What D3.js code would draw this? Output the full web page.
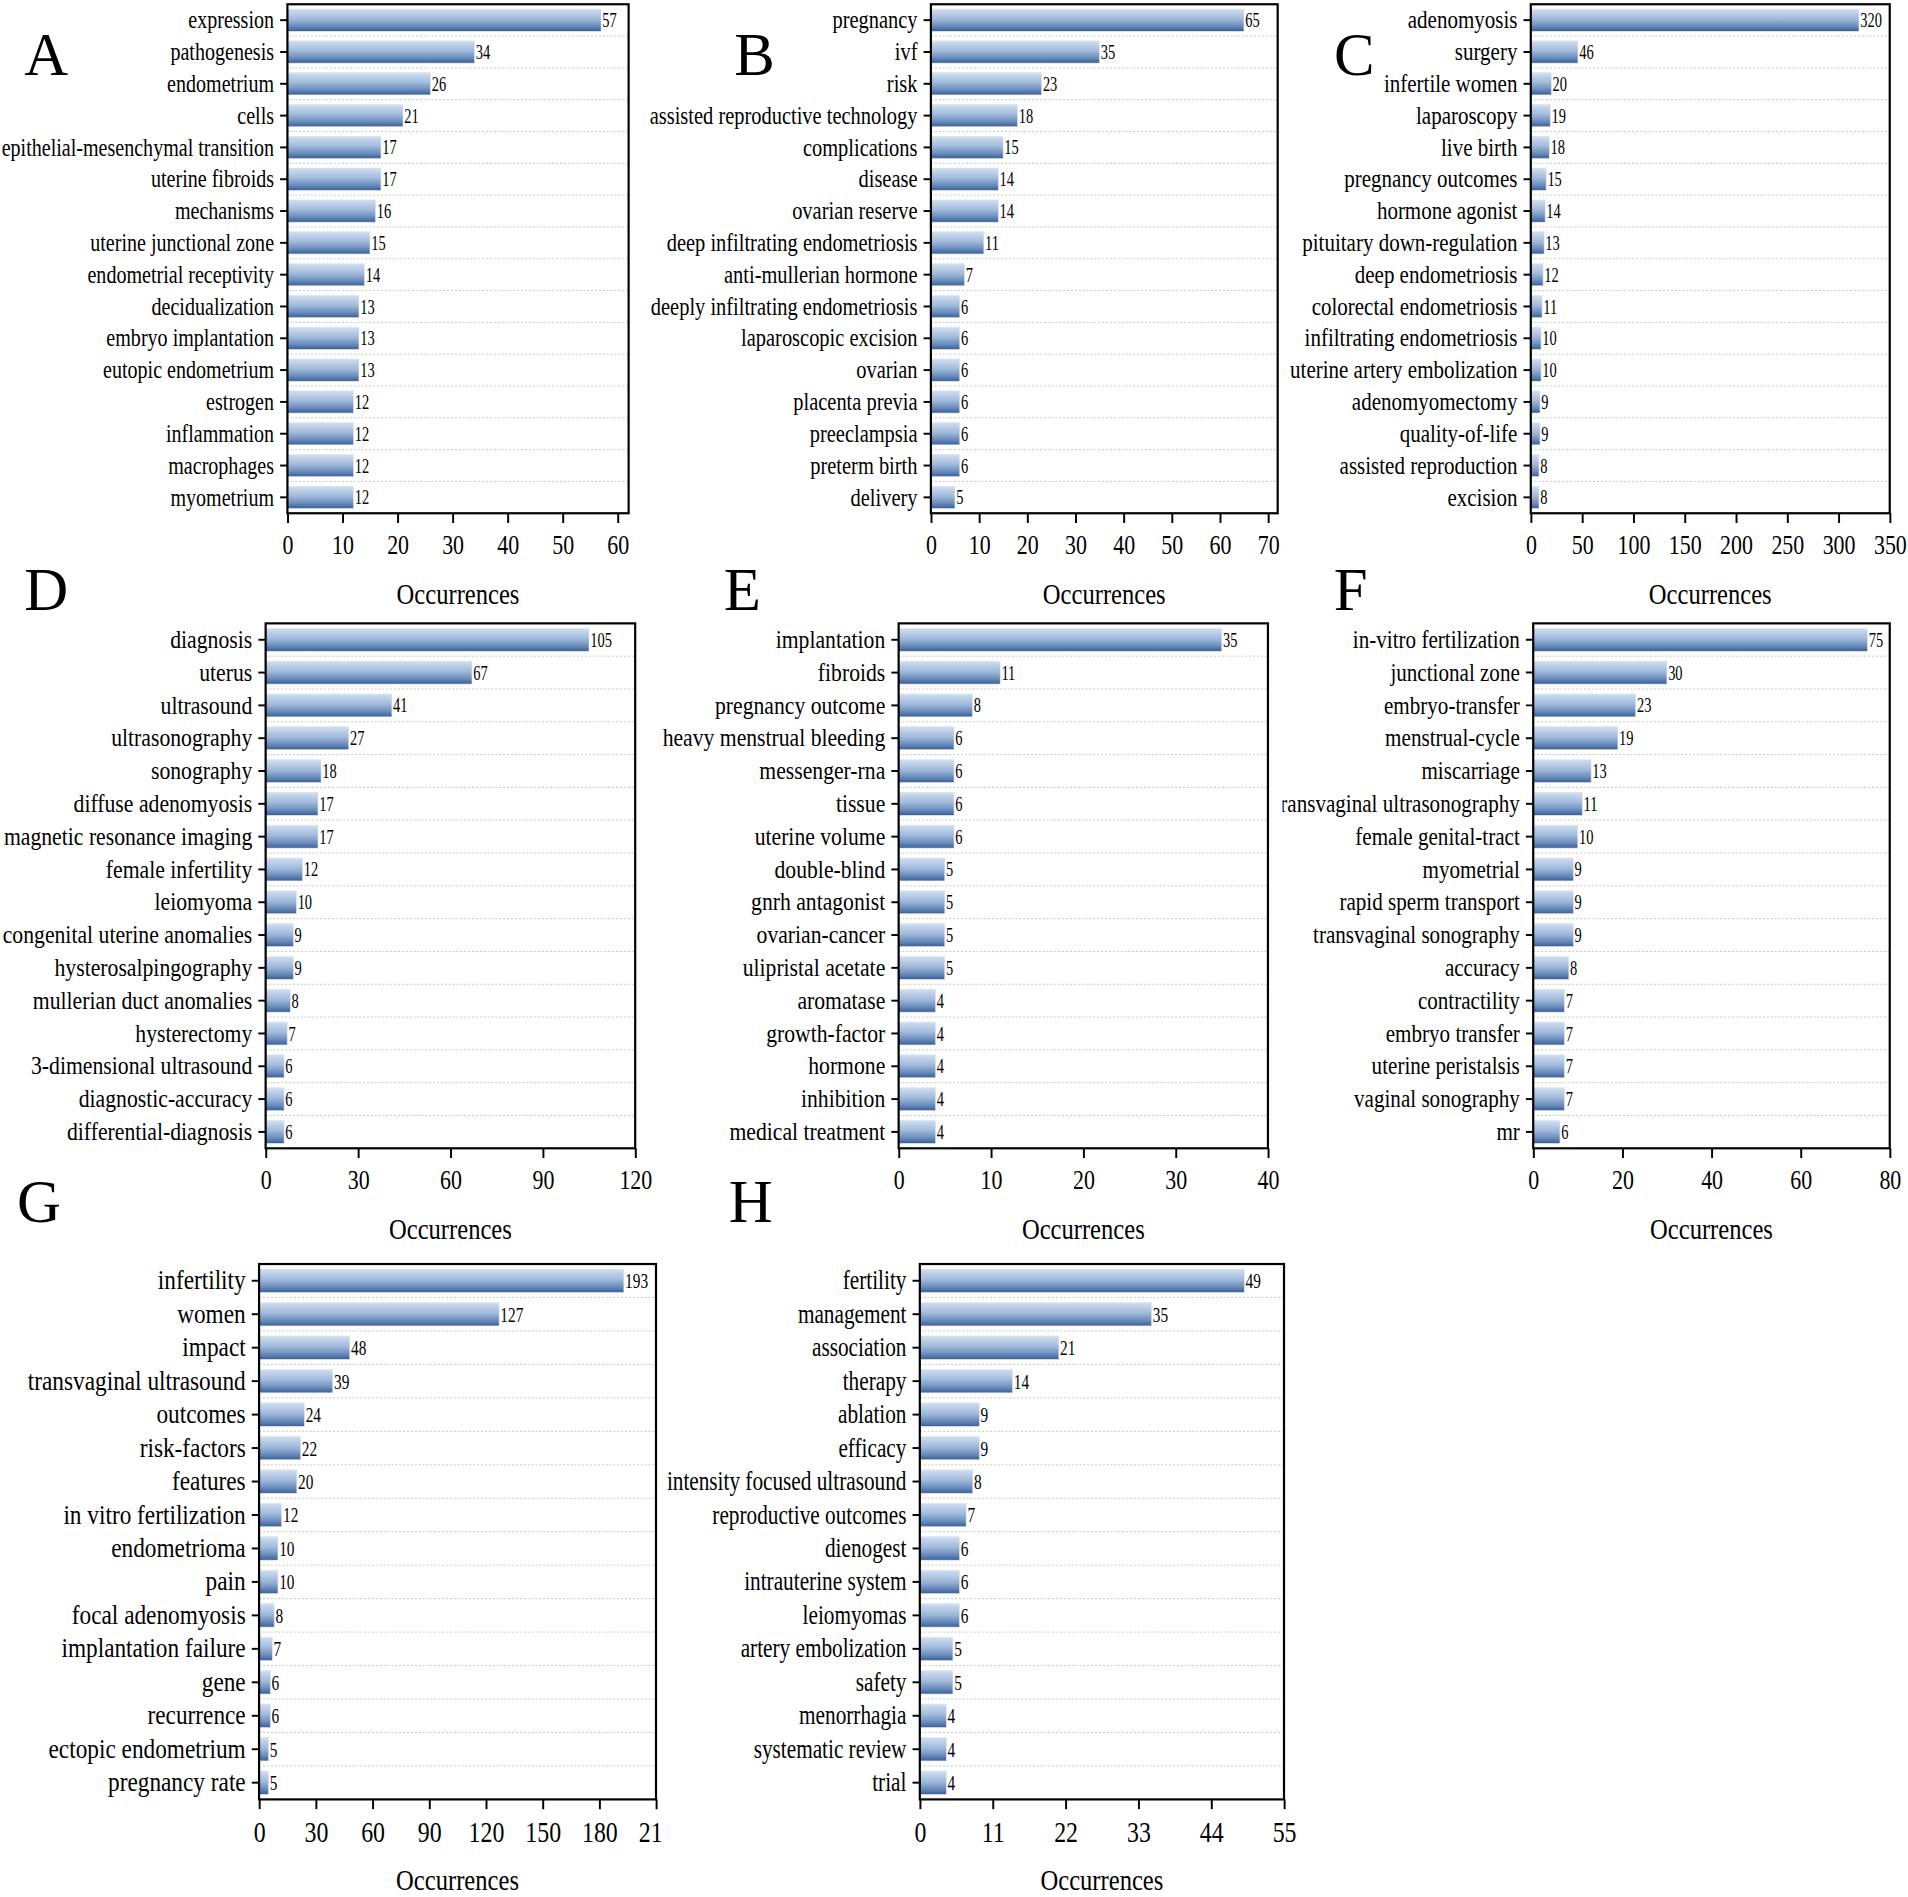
<!DOCTYPE html>
<html>
<head>
<meta charset="utf-8">
<script src="https://cdn.jsdelivr.net/npm/d3@7"></script>
<style>
  body { margin: 0; background: #fff; }
  svg text { font-family: 'Liberation Serif', 'Times New Roman', serif; fill: #000; }
</style>
</head>
<body>
<div class="keyword-chart"></div>
<script>
// keyword occurrence data, one list per panel
const aTerms = ['expression', 'pathogenesis', 'endometrium', 'cells', 'epithelial-mesenchymal transition', 'uterine fibroids', 'mechanisms', 'uterine junctional zone', 'endometrial receptivity', 'decidualization', 'embryo implantation', 'eutopic endometrium', 'estrogen', 'inflammation', 'macrophages', 'myometrium'];
const aCounts = [57, 34, 26, 21, 17, 17, 16, 15, 14, 13, 13, 13, 12, 12, 12, 12];
const aTicks = [0, 10, 20, 30, 40, 50, 60];

const bTerms = ['pregnancy', 'ivf', 'risk', 'assisted reproductive technology', 'complications', 'disease', 'ovarian reserve', 'deep infiltrating endometriosis', 'anti-mullerian hormone', 'deeply infiltrating endometriosis', 'laparoscopic excision', 'ovarian', 'placenta previa', 'preeclampsia', 'preterm birth', 'delivery'];
const bCounts = [65, 35, 23, 18, 15, 14, 14, 11, 7, 6, 6, 6, 6, 6, 6, 5];
const bTicks = [0, 10, 20, 30, 40, 50, 60, 70];

const cTerms = ['adenomyosis', 'surgery', 'infertile women', 'laparoscopy', 'live birth', 'pregnancy outcomes', 'hormone agonist', 'pituitary down-regulation', 'deep endometriosis', 'colorectal endometriosis', 'infiltrating endometriosis', 'uterine artery embolization', 'adenomyomectomy', 'quality-of-life', 'assisted reproduction', 'excision'];
const cCounts = [320, 46, 20, 19, 18, 15, 14, 13, 12, 11, 10, 10, 9, 9, 8, 8];
const cTicks = [0, 50, 100, 150, 200, 250, 300, 350];

const dTerms = ['diagnosis', 'uterus', 'ultrasound', 'ultrasonography', 'sonography', 'diffuse adenomyosis', 'magnetic resonance imaging', 'female infertility', 'leiomyoma', 'congenital uterine anomalies', 'hysterosalpingography', 'mullerian duct anomalies', 'hysterectomy', '3-dimensional ultrasound', 'diagnostic-accuracy', 'differential-diagnosis'];
const dCounts = [105, 67, 41, 27, 18, 17, 17, 12, 10, 9, 9, 8, 7, 6, 6, 6];
const dTicks = [0, 30, 60, 90, 120];

const eTerms = ['implantation', 'fibroids', 'pregnancy outcome', 'heavy menstrual bleeding', 'messenger-rna', 'tissue', 'uterine volume', 'double-blind', 'gnrh antagonist', 'ovarian-cancer', 'ulipristal acetate', 'aromatase', 'growth-factor', 'hormone', 'inhibition', 'medical treatment'];
const eCounts = [35, 11, 8, 6, 6, 6, 6, 5, 5, 5, 5, 4, 4, 4, 4, 4];
const eTicks = [0, 10, 20, 30, 40];

const fTerms = ['in-vitro fertilization', 'junctional zone', 'embryo-transfer', 'menstrual-cycle', 'miscarriage', 'transvaginal ultrasonography', 'female genital-tract', 'myometrial', 'rapid sperm transport', 'transvaginal sonography', 'accuracy', 'contractility', 'embryo transfer', 'uterine peristalsis', 'vaginal sonography', 'mr'];
const fCounts = [75, 30, 23, 19, 13, 11, 10, 9, 9, 9, 8, 7, 7, 7, 7, 6];
const fTicks = [0, 20, 40, 60, 80];

const gTerms = ['infertility', 'women', 'impact', 'transvaginal ultrasound', 'outcomes', 'risk-factors', 'features', 'in vitro fertilization', 'endometrioma', 'pain', 'focal adenomyosis', 'implantation failure', 'gene', 'recurrence', 'ectopic endometrium', 'pregnancy rate'];
const gCounts = [193, 127, 48, 39, 24, 22, 20, 12, 10, 10, 8, 7, 6, 6, 5, 5];
const gTicks = [0, 30, 60, 90, 120, 150, 180, 210];

const hTerms = ['fertility', 'management', 'association', 'therapy', 'ablation', 'efficacy', 'intensity focused ultrasound', 'reproductive outcomes', 'dienogest', 'intrauterine system', 'leiomyomas', 'artery embolization', 'safety', 'menorrhagia', 'systematic review', 'trial'];
const hCounts = [49, 35, 21, 14, 9, 9, 8, 7, 6, 6, 6, 5, 5, 4, 4, 4];
const hTicks = [0, 11, 22, 33, 44, 55];

// layout (drawn in a 1568 x 1559 coordinate space, scaled to the page)
const viewW = 1568;
const viewH = 1559;
const rows = [
  { top: 3.5, bottom: 421.8, letterY: 62, font: 21, tickFont: 22.5, valueFont: 16.5 },
  { top: 512.3, bottom: 943.7, letterY: 501, font: 21, tickFont: 22.5, valueFont: 16.5 },
  { top: 1038.8, bottom: 1478.8, letterY: 1004, font: 22, tickFont: 24.5, valueFont: 17.5 },
];

const panels = [
  { id: 'A', terms: aTerms, counts: aCounts, ticks: aTicks, max: 62, left: 236.2, right: 516.6, row: 0, letterX: 38, squeeze: 0.785 },
  { id: 'B', terms: bTerms, counts: bCounts, ticks: bTicks, max: 72, left: 765, right: 1050, row: 0, letterX: 620, squeeze: 0.8 },
  { id: 'C', terms: cTerms, counts: cCounts, ticks: cTicks, max: 350, left: 1258, right: 1553, row: 0, letterX: 1113, squeeze: 0.822 },
  { id: 'D', terms: dTerms, counts: dCounts, ticks: dTicks, max: 120, left: 218.3, right: 522, row: 1, letterX: 38, squeeze: 0.85 },
  { id: 'E', terms: eTerms, counts: eCounts, ticks: eTicks, max: 40, left: 738.5, right: 1042, row: 1, letterX: 610, squeeze: 0.848 },
  { id: 'F', terms: fTerms, counts: fCounts, ticks: fTicks, max: 80, left: 1260, right: 1553, row: 1, letterX: 1110, squeeze: 0.826, clipLeft: 1054 },
  { id: 'G', terms: gTerms, counts: gCounts, ticks: gTicks, max: 210, left: 212.9, right: 539.1, row: 2, letterX: 32, squeeze: 0.87, clipRight: 543 },
  { id: 'H', terms: hTerms, counts: hCounts, ticks: hTicks, max: 55, left: 755.9, right: 1055.2, row: 2, letterX: 617, squeeze: 0.794 },
];

const svg = d3
  .select('.keyword-chart')
  .append('svg')
  .attr('width', 1908)
  .attr('height', 1897)
  .attr('viewBox', `0 0 ${viewW} ${viewH}`)
  .attr('preserveAspectRatio', 'none');

const defs = svg.append('defs');
const grad = defs
  .append('linearGradient')
  .attr('id', 'bar-fill')
  .attr('x1', 0)
  .attr('y1', 0)
  .attr('x2', 0)
  .attr('y2', 1);
[
  [0, '#d3e1f2'],
  [0.12, '#c3d5eb'],
  [0.45, '#a0badb'],
  [0.78, '#6889ba'],
  [1, '#375f94'],
].forEach(([o, c]) => grad.append('stop').attr('offset', o).attr('stop-color', c));

// squeeze text horizontally, the original labels are narrow
const squeezeText = (sel, sx) => {
  sel.each(function () {
    const t = d3.select(this);
    const x = +t.attr('x') || 0;
    t.attr('x', x / sx).attr('transform', `scale(${sx},1)`);
  });
};

const drawPanel = (p) => {
  const row = rows[p.row];
  const g = svg.append('g').attr('class', `panel-${p.id}`);

  if (p.clipLeft || p.clipRight) {
    const clipId = `clip-${p.id}`;
    const x0 = p.clipLeft || 0;
    const x1 = p.clipRight || viewW;
    defs
      .append('clipPath')
      .attr('id', clipId)
      .append('rect')
      .attr('x', x0)
      .attr('y', row.top - 20)
      .attr('width', x1 - x0)
      .attr('height', row.bottom - row.top + 120);
    g.attr('clip-path', `url(#${clipId})`);
  }

  const xScale = d3.scaleLinear().domain([0, p.max]).range([p.left, p.right]);
  const yScale = d3
    .scaleBand()
    .domain(p.terms)
    .range([row.top, row.bottom])
    .paddingInner(0.3)
    .paddingOuter(0.15);

  const data = p.terms.map((t, i) => ({ term: t, count: p.counts[i] }));
  const gap = (yScale.step() * yScale.paddingInner()) / 2;

  // dotted separators between categories
  g.selectAll('line.sep')
    .data(p.terms.slice(1))
    .enter()
    .append('line')
    .attr('class', 'sep')
    .attr('x1', p.left)
    .attr('x2', p.right)
    .attr('y1', (d) => yScale(d) - gap)
    .attr('y2', (d) => yScale(d) - gap)
    .attr('stroke', '#c4c4c4')
    .attr('stroke-width', 0.8)
    .attr('stroke-dasharray', '1.6,1.6');

  g.selectAll('rect.bar')
    .data(data)
    .enter()
    .append('rect')
    .attr('class', 'bar')
    .attr('x', xScale(0))
    .attr('y', (d) => yScale(d.term))
    .attr('width', (d) => xScale(d.count) - xScale(0))
    .attr('height', yScale.bandwidth())
    .attr('fill', 'url(#bar-fill)')
    .attr('stroke', '#dfe6ef')
    .attr('stroke-width', 0.5);

  g.selectAll('text.value')
    .data(data)
    .enter()
    .append('text')
    .attr('class', 'value')
    .attr('x', (d) => xScale(d.count) + 1)
    .attr('y', (d) => yScale(d.term) + yScale.bandwidth() / 2)
    .attr('dy', '0.35em')
    .style('font-size', `${row.valueFont}px`)
    .text((d) => d.count)
    .each(function () {
      const t = d3.select(this);
      const x = +t.attr('x');
      const y = +t.attr('y');
      t.attr('x', 0).attr('y', 0).attr('transform', `translate(${x},${y}) scale(0.72,1)`);
    });

  // frame
  g.append('rect')
    .attr('x', p.left)
    .attr('y', row.top)
    .attr('width', p.right - p.left)
    .attr('height', row.bottom - row.top)
    .attr('fill', 'none')
    .attr('stroke', '#000')
    .attr('stroke-width', 1.8);

  const yAxis = d3.axisLeft(yScale).tickSizeInner(6).tickSizeOuter(0).tickPadding(5);
  const yAxisGroup = g.append('g').attr('transform', `translate(${p.left},0)`).call(yAxis);
  yAxisGroup.select('.domain').remove();
  yAxisGroup.selectAll('line').attr('stroke-width', 1.6);
  yAxisGroup
    .selectAll('text')
    .style('font-size', `${row.font}px`)
    .call(squeezeText, p.squeeze);
  yAxisGroup.attr('font-family', null).attr('font-size', null);

  const xAxis = d3
    .axisBottom(xScale)
    .tickValues(p.ticks)
    .tickFormat(d3.format('d'))
    .tickSizeInner(8)
    .tickSizeOuter(0)
    .tickPadding(9.5);
  const xAxisGroup = g.append('g').attr('transform', `translate(0,${row.bottom})`).call(xAxis);
  xAxisGroup.select('.domain').remove();
  xAxisGroup.selectAll('line').attr('stroke-width', 1.6);
  xAxisGroup
    .selectAll('text')
    .style('font-size', `${row.tickFont}px`)
    .call(squeezeText, 0.8);
  xAxisGroup.attr('font-family', null).attr('font-size', null);

  const cx = (p.left + p.right) / 2;
  g.append('text')
    .attr('transform', `translate(${cx},${row.bottom + 66.5}) scale(0.86,1)`)
    .attr('text-anchor', 'middle')
    .attr('dy', '0.35em')
    .style('font-size', '23.5px')
    .text('Occurrences');

  svg
    .append('text')
    .attr('x', p.letterX)
    .attr('y', row.letterY)
    .attr('text-anchor', 'middle')
    .style('font-size', '50px')
    .text(p.id);
};

panels.forEach(drawPanel);
</script>
</body>
</html>
